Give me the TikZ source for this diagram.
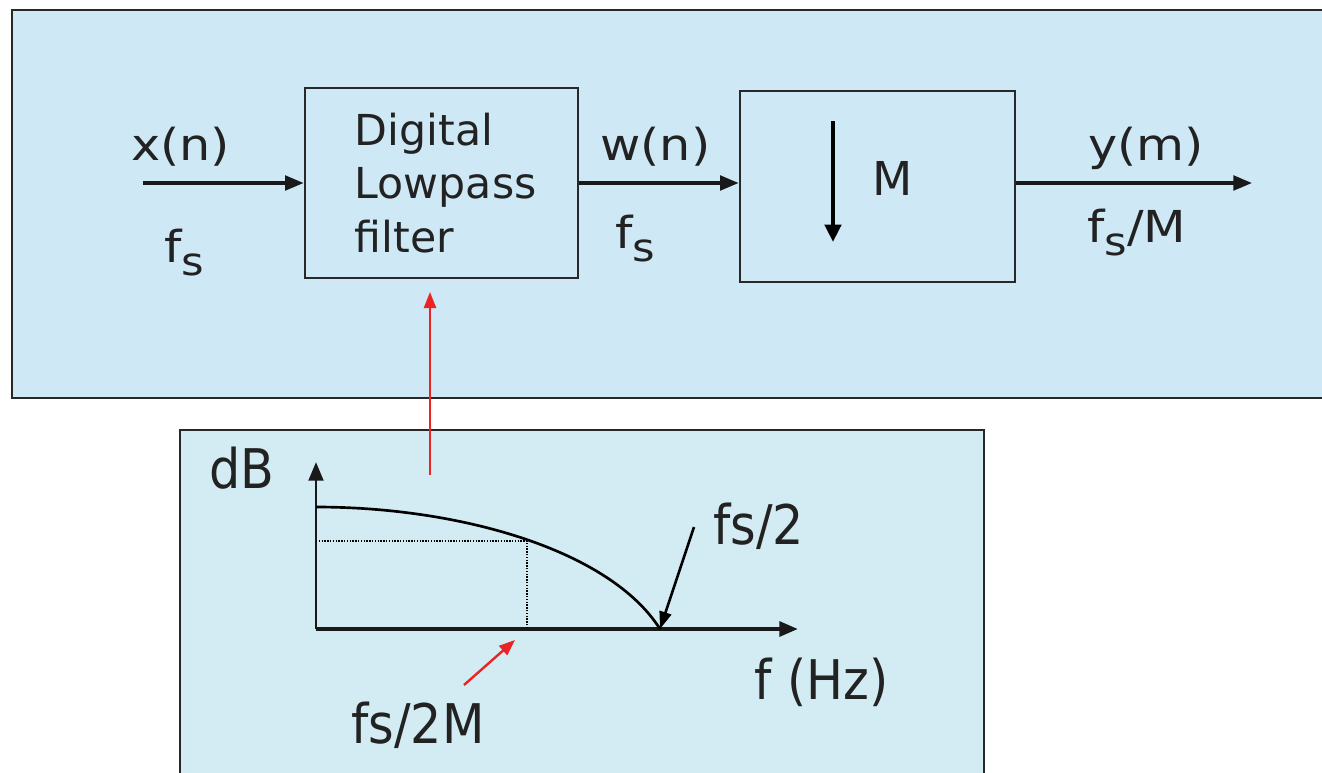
\documentclass[tikz,border=0pt]{standalone}
\usepackage{fontspec}
\setmainfont{DejaVu Sans}
\newfontfamily\widefont[FakeStretch=1.12]{DejaVu Sans}
\newfontfamily\condfont[FakeStretch=0.9]{DejaVu Sans}
\usetikzlibrary{arrows.meta}
\definecolor{topfill}{RGB}{206,232,246}
\definecolor{botfill}{RGB}{211,236,243}
\definecolor{edge}{RGB}{40,40,40}
\definecolor{txt}{RGB}{34,34,34}
\definecolor{redarr}{RGB}{235,35,35}
\newcommand{\fsub}{f\raisebox{-0.3em}{\fontsize{29}{29}\selectfont s}}
\begin{document}
\begin{tikzpicture}[x=0.75pt,y=-0.75pt,
  font=\fontsize{32}{40}\selectfont,
  panel/.style={draw=edge, line width=1.8pt},
  blockbox/.style={draw=edge, line width=2pt, inner sep=0pt},
  lbl/.style={anchor=base west, inner sep=0pt, text=txt, font=\widefont\fontsize{33}{40}\selectfont},
  plbl/.style={anchor=base west, inner sep=0pt, text=txt, font=\condfont\fontsize{41}{48}\selectfont},
  sig/.style={-{Triangle[length=14pt,width=11pt]}, line width=2.5pt, draw=black!90},
  redsig/.style={-{Triangle[length=12pt,width=9pt]}, line width=1.8pt, draw=redarr, color=redarr},
  thinarrow/.style={-{Triangle[length=13pt,width=9pt]}, line width=2pt},
  dotline/.style={densely dotted, line width=1.1pt}
]
\clip (0,0) rectangle (1322,772);
\useasboundingbox (0,0) rectangle (1322,772);

% panels
\draw[panel, fill=topfill] (12,10) rectangle (1345,398);
\draw[panel, fill=botfill] (180,430) rectangle (984,800);

% blocks
\node[blockbox, minimum width=204.75pt, minimum height=142.5pt, text width=130pt, align=left, text=txt] (filt) at (441.5,183)
  {Digital\\Lowpass\\filter};
\node[blockbox, minimum width=206.25pt, minimum height=143.25pt] (dec) at (877.5,186.5) {};

% signal path
\coordinate (xin) at (143,183);
\coordinate (yout) at (1252,183);
\draw[sig] (xin) -- (xin -| filt.west);
\draw[sig] (filt.east |- xin) -- (dec.west |- xin);
\draw[sig] (dec.east |- xin) -- (yout);

% downsample symbol
\coordinate (dtop) at (833,121);
\coordinate (dbot) at (833,242);
\draw[-{Triangle[length=13pt,width=12pt]}, line width=3.2pt] (dtop) -- (dbot);
\node[anchor=base west, inner sep=0pt, text=txt, font=\fontsize{35}{40}\selectfont] (mlbl) at (872,195) {M};

% labels
\node[lbl] (xn) at (131,160) {x(n)};
\node[lbl] (fs1) at (164,262) {\fsub};
\node[lbl] (wn) at (600,160) {w(n)};
\node[lbl] (fs2) at (615,248) {\fsub};
\node[lbl] (ym) at (1088,160) {y(m)};
\node[lbl] (fsm) at (1087,242) {\fsub/M};

% red link from response to filter
\coordinate (rstart) at (430,475);
\draw[redsig] (rstart) -- (rstart |- 0,292);

% frequency response plot
\coordinate (orig) at (316,629);
\coordinate (ytip) at (316,462);
\coordinate (xtip) at (798,629);
\draw[sig, line width=2.2pt] (orig) -- (ytip);
\draw[sig, line width=3pt] (orig) -- (xtip);
\coordinate (ctop) at (316,507);
\coordinate (cend) at (660,629);
\coordinate (cpass) at (527,541);
\draw[line width=2pt] (ctop) .. controls (460,507) and (610,550) .. (cend);
\draw[dotline] (316,541) -- (cpass) -- (527,629);

\node[plbl] (db) at (209,488) {dB};
\node[plbl] (fs2lbl) at (713,544) {fs/2};
\node[plbl] (fhz) at (754,699) {f (Hz)};
\node[plbl] (fs2m) at (351,743) {fs/2M};

\coordinate (a1s) at (694,527);
\draw[thinarrow] (a1s) -- (cend);
\coordinate (a2s) at (464,685);
\coordinate (a2e) at (515,640);
\draw[redsig] (a2s) -- (a2e);
\end{tikzpicture}
\end{document}
